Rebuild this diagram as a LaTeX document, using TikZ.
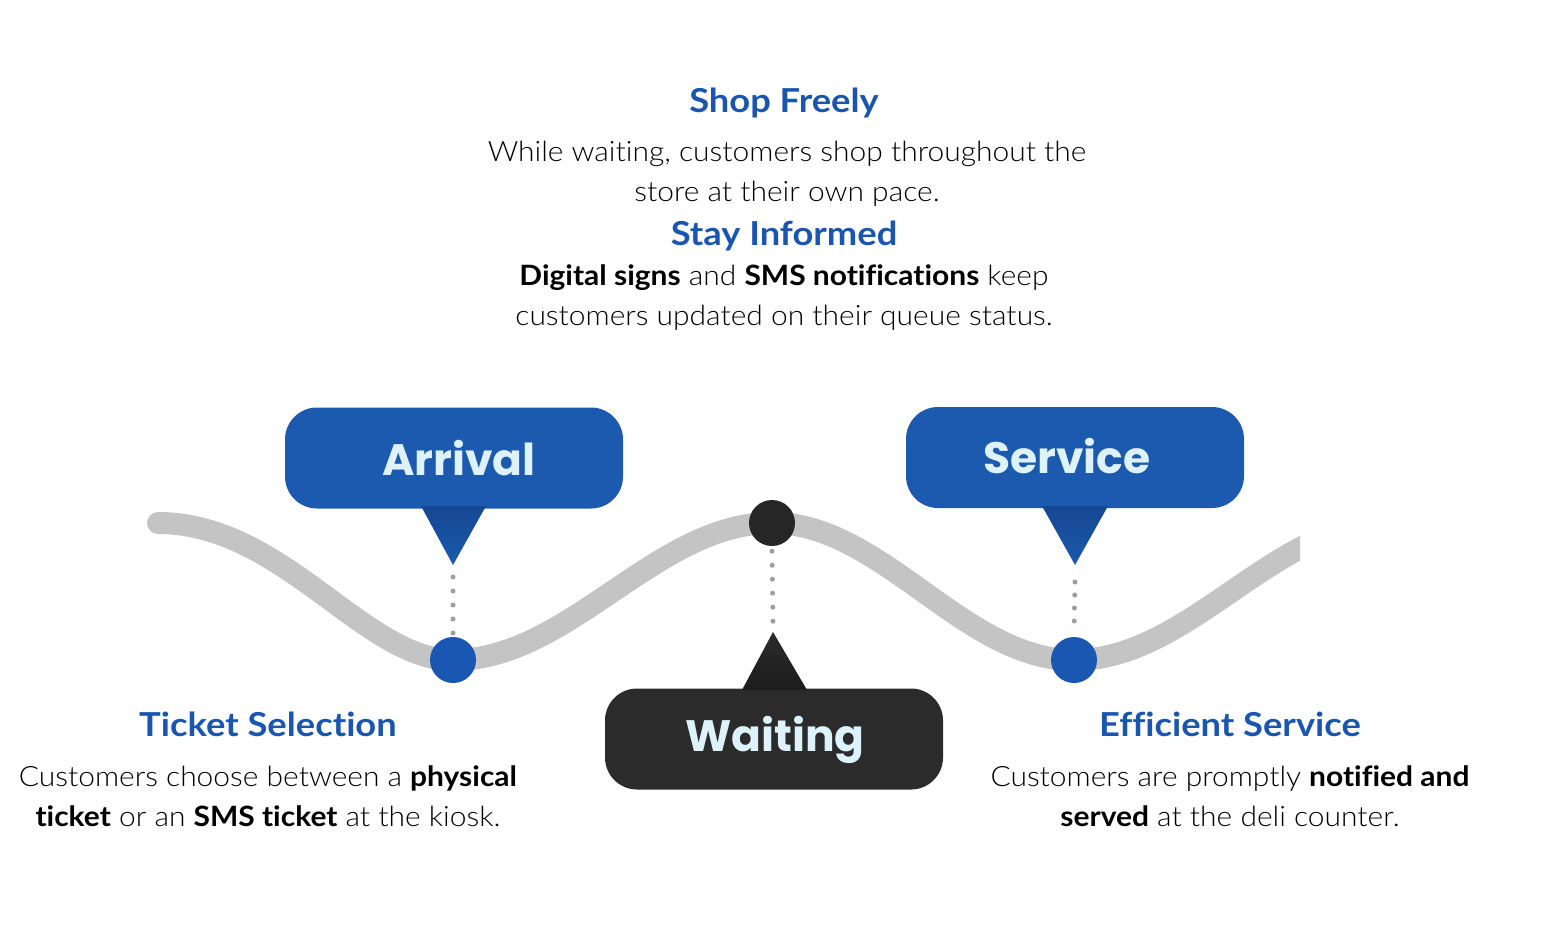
\documentclass[tikz,border=0pt]{standalone}
\usepackage{fontspec}
\setmainfont{Lato}[UprightFont={* Light},BoldFont={* Bold},FakeStretch=1.07,Ligatures=NoCommon]
\newfontfamily\boxfont{Poppins}[UprightFont={* Bold}]
\newfontfamily\headfont{Lato}[UprightFont={* Bold},FakeStretch=1.1,Ligatures=NoCommon]
\definecolor{boxblue}{HTML}{1B5AAE}
\definecolor{tritop}{HTML}{154892}
\definecolor{titleblue}{HTML}{1A55B0}
\definecolor{dotblue}{HTML}{1A57B2}
\definecolor{darkbox}{HTML}{2B2B2B}
\definecolor{darktop}{HTML}{1C1C1C}
\definecolor{darkdot}{HTML}{262626}
\definecolor{labeltxt}{HTML}{DDF2FB}
\definecolor{curvegray}{HTML}{C4C4C4}
\definecolor{dotgray}{HTML}{9E9E9E}
\tikzset{
  stagebox/.style={rounded corners=32pt, minimum width=338pt, minimum height=101pt, inner sep=0pt},
  stagetext/.style={font=\boxfont\fontsize{44}{44}\selectfont, text=labeltxt, inner sep=0pt},
  marker/.style={circle, minimum size=46pt, inner sep=0pt},
  curveline/.style={line width=22pt, draw=curvegray, line cap=round},
  dotline/.style={draw=dotgray, line width=5pt, line cap=round, dash pattern=on 0pt off 14pt},
  head/.style={font=\headfont\fontsize{33}{33}\selectfont, text=titleblue, inner sep=0pt},
  body/.style={font=\fontsize{28}{40}\selectfont, align=center, inner sep=0pt, text=black},
}
\begin{document}
\begin{tikzpicture}[x=1pt,y=-1pt]
\useasboundingbox (0,0) rectangle (1568,937);
% positions on the wave
\coordinate (p0) at (158,523);
\coordinate (q1) at (453,660);
\coordinate (q2) at (772,523);
\coordinate (q3) at (1074,660);
\coordinate (p4) at (1389,523);
% wave
\begin{scope}
\clip (0,0) rectangle (1300,937);
\draw[curveline] (p0) .. controls (283,523) and (364,660) .. (q1)
  .. controls (569,660) and (656,523) .. (q2)
  .. controls (882,523) and (964,660) .. (q3)
  .. controls (1189,660) and (1274,523) .. (p4);
\end{scope}
% markers
\node[marker, fill=dotblue] (tickdot) at (q1) {};
\node[marker, fill=darkdot] (waitdot) at (q2) {};
\node[marker, fill=dotblue] (servdot) at (q3) {};
% boxes
\node[stagebox, fill=boxblue] (arrival) at (454,458) {};
\node[stagebox, fill=boxblue] (service) at (1075,457.5) {};
\node[stagebox, fill=darkbox] (waiting) at (774,739) {};
% pointers
\coordinate (arrtip) at (453,565);
\coordinate (servtip) at (1075,565);
\coordinate (waittip) at (773,632);
\shade[top color=tritop, bottom color=boxblue] (421,506) -- (486,506) -- (arrtip) -- cycle;
\shade[top color=tritop, bottom color=boxblue] (1042,506) -- (1108,506) -- (servtip) -- cycle;
\shade[top color=darkbox, bottom color=darktop] (742,690) -- (807,690) -- (waittip) -- cycle;
% labels
\node[stagetext] (arrlabel) at (459,458) {Arrival};
\node[stagetext] (servlabel) at (1067,456) {Service};
\node[stagetext] (waitlabel) at (775,740) {Waiting};
% dotted connectors
\draw[dotline] ([yshift=-12pt]arrtip) -- ([yshift=3pt]tickdot.north);
\draw[dotline] ([yshift=-5pt]waitdot.south) -- ([yshift=9pt]waittip);
\draw[dotline, dash pattern=on 0pt off 13pt] ([yshift=-17pt]servtip) -- ([yshift=3pt]servdot.north);
% texts
\node[head] (shophead) at (784,103) {Shop Freely};
\node[body] (shopbody) at (787,174) {While waiting, customers shop throughout the\\store at their own pace.};
\node[head] (stayhead) at (784,236) {Stay Informed};
\node[body] (staybody) at (784,298) {\textbf{Digital signs} and \textbf{SMS notifications} keep\\customers updated on their queue status.};
\node[head] (tickhead) at (268,724) {Ticket Selection};
\node[body] (tickbody) at (268,796) {Customers choose between a \textbf{physical}\\\textbf{ticket} or an \textbf{SMS ticket} at the kiosk.};
\node[head] (effhead) at (1230,724) {Efficient Service};
\node[body] (effbody) at (1230,796) {Customers are promptly \textbf{notified and}\\\textbf{served} at the deli counter.};
\end{tikzpicture}
\end{document}
